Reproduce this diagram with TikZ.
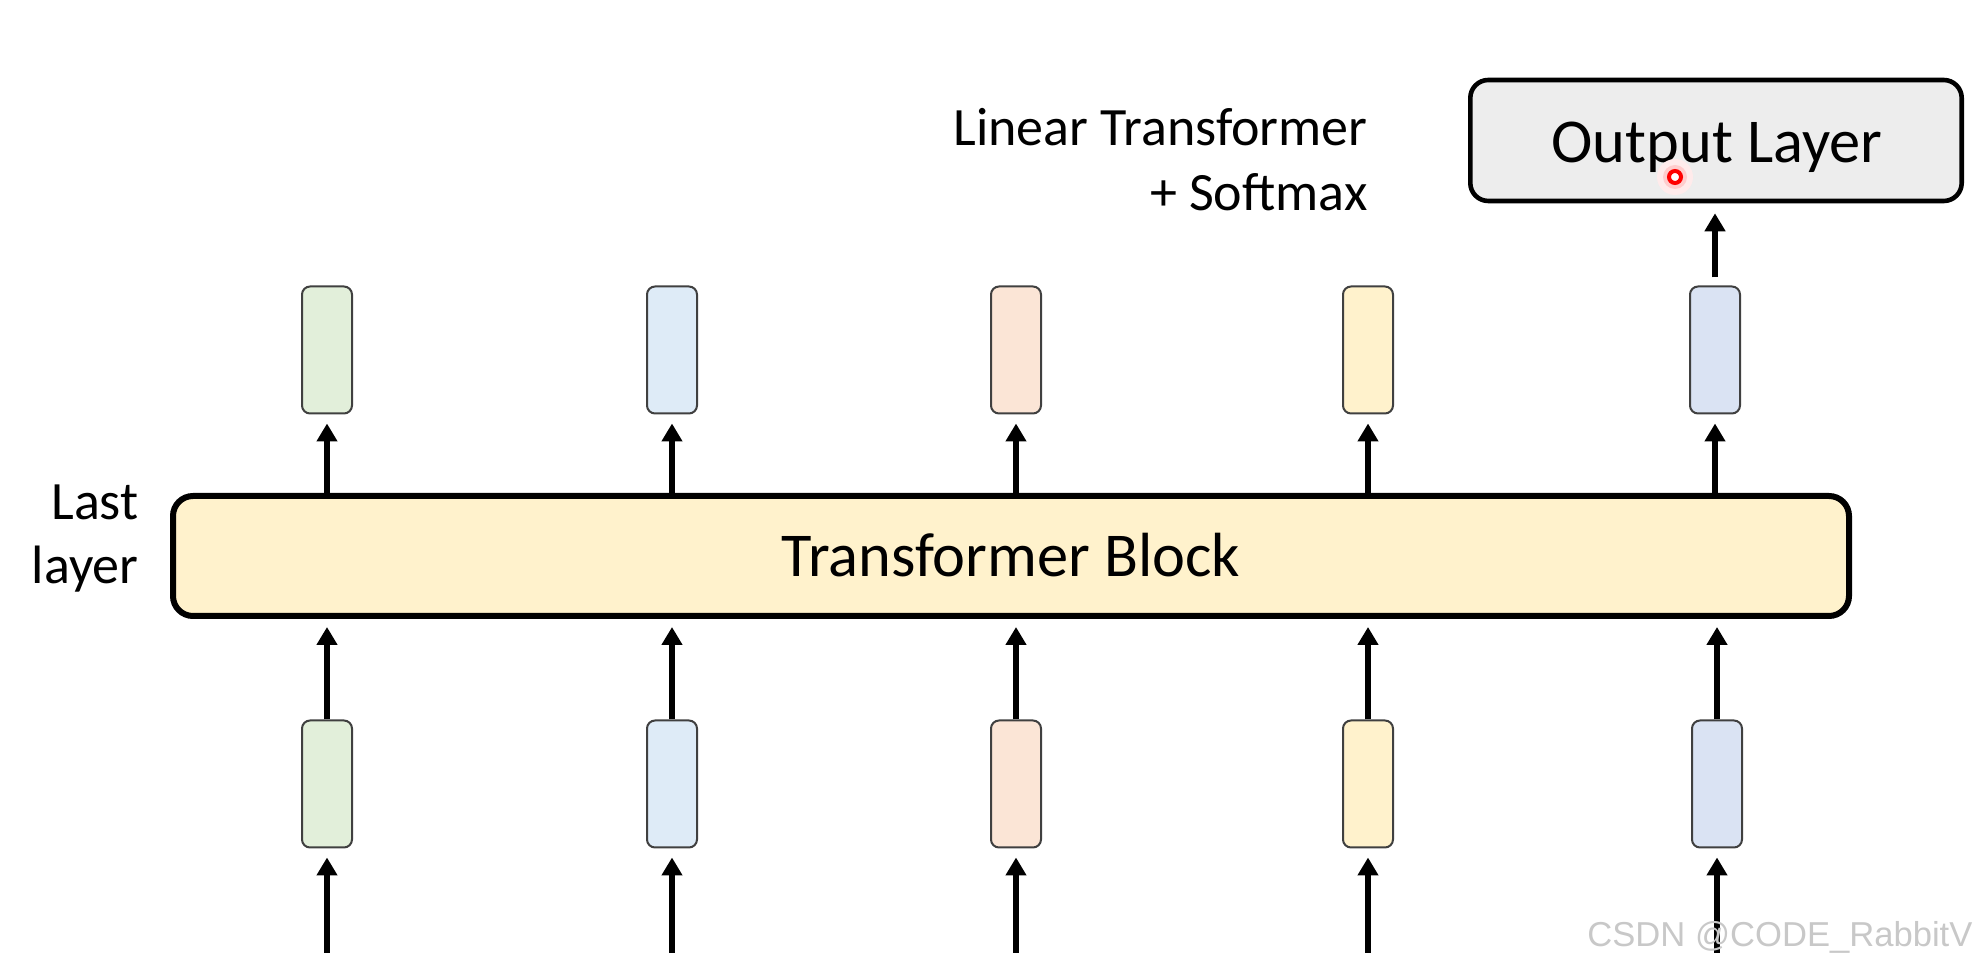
\documentclass[tikz,border=0pt]{standalone}
\usepackage{fontspec}
\setmainfont{Carlito}
\newfontfamily\wmfont{Liberation Sans}
\usetikzlibrary{arrows.meta}
\definecolor{cgreen}{HTML}{E2EFDA}
\definecolor{cblue}{HTML}{DEEBF7}
\definecolor{corange}{HTML}{FBE5D6}
\definecolor{cyellow}{HTML}{FFF2CC}
\definecolor{cslate}{HTML}{DAE3F3}
\definecolor{vecborder}{HTML}{404040}
\definecolor{outfill}{HTML}{EDEDED}
\definecolor{wmgray}{HTML}{C8C8C8}
\begin{document}
\begin{tikzpicture}[x=0.5pt,y=-0.5pt,
  vec/.style={draw=vecborder, line width=1pt, rounded corners=4pt,
    minimum width=25pt, minimum height=63.5pt, inner sep=0pt},
  blockbox/.style={draw=black, line width=3pt, rounded corners=10pt, fill=cyellow,
    minimum width=838pt, minimum height=60pt, inner sep=0pt},
  outbox/.style={draw=black, line width=2.3pt, rounded corners=9pt, fill=outfill,
    minimum width=245.7pt, minimum height=60.5pt, inner sep=0pt},
  bigtxt/.style={inner sep=0pt, font=\fontsize{31.2}{37}\selectfont},
  midtxt/.style={inner sep=0pt, font=\fontsize{27}{32}\selectfont},
  arr/.style={line width=2.6pt, -{Triangle[length=9pt,width=10pt]}}
]
\useasboundingbox (0,0) rectangle (1978,967);

% transformer block
\node[blockbox] (blk) at (1011,556) {};
\node[bigtxt, anchor=base] (blktxt) at (1011,577) {Transformer Block};

% output layer
\node[outbox] (out) at (1716,140.5) {};
\node[bigtxt, anchor=base] (outtxt) at (1717,163) {Output Layer};

% labels
\node[midtxt, anchor=base east] (lin1) at (1368,146) {Linear Transformer};
\node[midtxt, anchor=base east] (lin2) at (1368,211) {+ Softmax};
\node[midtxt, anchor=base east] (last1) at (139,520) {Last};
\node[midtxt, anchor=base east] (last2) at (139,584) {layer};

% top vectors
\node[vec, fill=cgreen]  (t1) at (327,350) {};
\node[vec, fill=cblue]   (t2) at (672,350) {};
\node[vec, fill=corange] (t3) at (1016,350) {};
\node[vec, fill=cyellow] (t4) at (1368,350) {};
\node[vec, fill=cslate]  (t5) at (1715,350) {};

% bottom vectors
\node[vec, fill=cgreen]  (b1) at (327,784) {};
\node[vec, fill=cblue]   (b2) at (672,784) {};
\node[vec, fill=corange] (b3) at (1016,784) {};
\node[vec, fill=cyellow] (b4) at (1368,784) {};
\node[vec, fill=cslate]  (b5) at (1717,784) {};

% input free ends
\coordinate (in1) at (327,953);
\coordinate (in2) at (672,953);
\coordinate (in3) at (1016,953);
\coordinate (in4) at (1368,953);
\coordinate (in5) at (1717,953);

\foreach \i in {1,...,5}{
  \draw[arr, shorten >=4.5pt] (in\i) -- (b\i.south);
  \draw[arr, shorten >=4pt] (b\i.north) -- (b\i.north |- blk.south);
  \draw[arr, shorten >=4.5pt] (t\i.south |- blk.north) -- (t\i.south);
}
\draw[arr, shorten <=4pt, shorten >=5pt] (t5.north) -- (t5.north |- out.south);

% laser pointer dot
\fill[red!8] (1675,177) circle[radius=9pt];
\fill[red!20] (1675,177) circle[radius=6pt];
\draw[red, line width=2pt, fill=white] (1675,177) circle[radius=3pt];

% watermark
\node[inner sep=0pt, anchor=base west, text=wmgray,
  font=\wmfont\fontsize{17.3}{20}\selectfont] (wm) at (1587,947) {CSDN @CODE\_RabbitV};
\end{tikzpicture}
\end{document}
